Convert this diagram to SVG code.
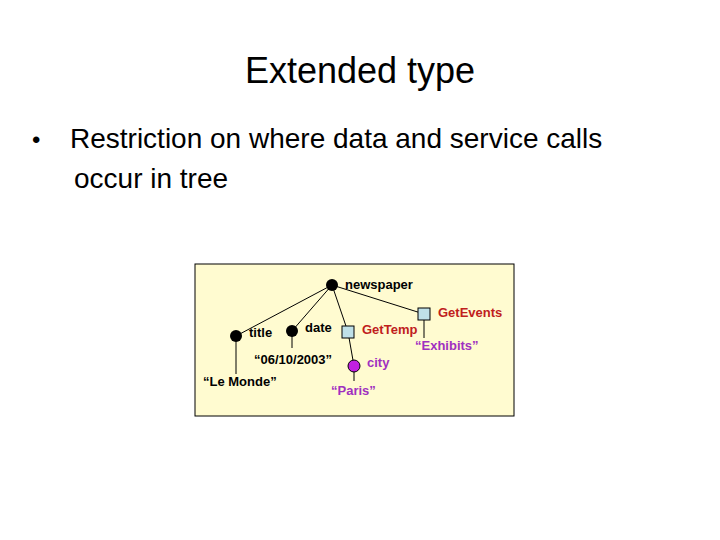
<svg xmlns="http://www.w3.org/2000/svg" width="720" height="540" viewBox="0 0 720 540">
<style>
text{font-family:"Liberation Sans",Arial,sans-serif}
.l{font-size:13px;font-weight:bold}
.r{fill:#c0201c}.p{fill:#a030c0}
.e{stroke:#000;stroke-width:1}
.sq{fill:#bfe0e8;stroke:#000;stroke-width:1}
</style>
<rect width="720" height="540" fill="#fff"/>
<text x="360" y="83" font-size="36" text-anchor="middle">Extended type</text>
<text x="32" y="148" font-size="24">•</text>
<text x="70" y="148" font-size="28">Restriction on where data and service calls</text>
<text x="74" y="188" font-size="28">occur in tree</text>
<rect x="195" y="264" width="319" height="152" fill="#fffbd0" stroke="#000"/>
<g id="connectors" class="e">
<line x1="332" y1="285" x2="236" y2="336"/>
<line x1="332" y1="285" x2="292" y2="331"/>
<line x1="332" y1="285" x2="348" y2="332"/>
<line x1="332" y1="285" x2="424" y2="314"/>
<line x1="236" y1="336" x2="236" y2="374"/>
<line x1="292" y1="331" x2="292" y2="348"/>
<line x1="348" y1="332" x2="354" y2="366"/>
<line x1="354" y1="366" x2="354" y2="381"/>
<line x1="424" y1="314" x2="424" y2="338"/>
</g>
<g id="newspaper"><circle cx="332" cy="285" r="6"/><text x="345" y="289" class="l">newspaper</text></g>
<g id="title"><circle cx="236" cy="336" r="6"/><text x="249" y="337" class="l">title</text></g>
<g id="date"><circle cx="292" cy="331" r="6"/><text x="305" y="332" class="l">date</text></g>
<g id="lemonde"><text x="203" y="386" class="l">“Le Monde”</text></g>
<g id="datev"><text x="254" y="364" class="l">“06/10/2003”</text></g>
<g id="gettemp"><rect x="342" y="326" width="12" height="12" class="sq"/><text x="362" y="334" class="l r">GetTemp</text></g>
<g id="getevents"><rect x="418" y="308" width="12" height="12" class="sq"/><text x="438" y="317" class="l r">GetEvents</text></g>
<g id="exhibits"><text x="415" y="350" class="l p">“Exhibits”</text></g>
<g id="city"><circle cx="354" cy="366" r="6" fill="#c020e0" stroke="#000"/><text x="367" y="367" class="l p">city</text></g>
<g id="paris"><text x="331" y="395" class="l p">“Paris”</text></g>
</svg>
